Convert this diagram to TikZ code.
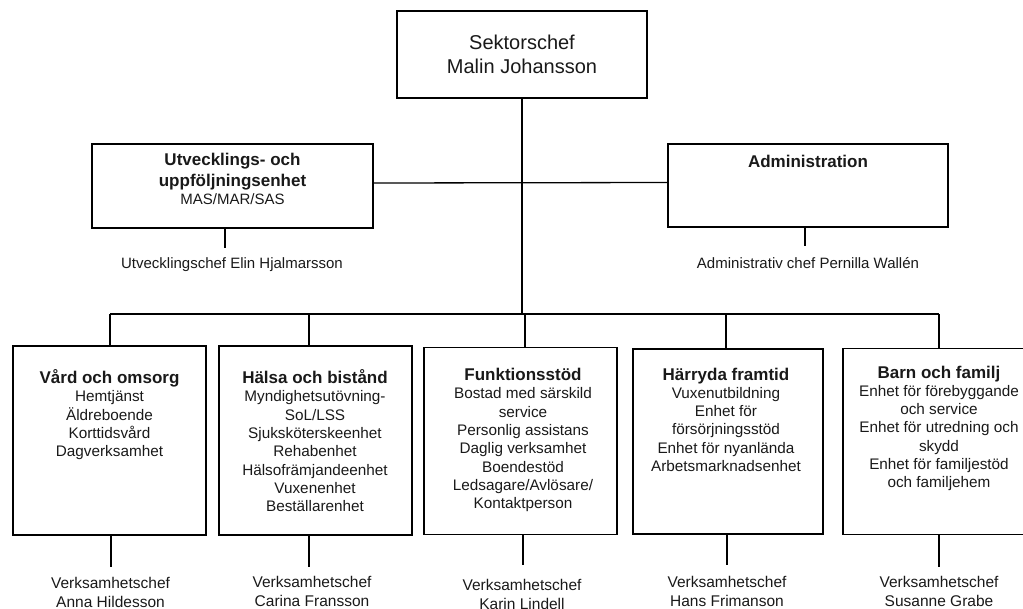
\documentclass[tikz,border=0pt]{standalone}
\usepackage{fontspec}
\setmainfont{Liberation Sans}
\begin{document}
\begin{tikzpicture}[x=1pt,y=-1pt,
  box/.style={draw=black, line width=1.6pt, rectangle, inner sep=0pt},
  conn/.style={draw=black, line width=1.3pt},
  txt/.style={inner sep=0pt, align=center, text=black!90, font=\fontsize{15.3}{18.3}\selectfont},
  chef/.style={inner sep=0pt, align=center, text=black!90, font=\fontsize{15.5}{19}\selectfont}]
\clip (0,0) rectangle (1023,608);
% top
\node[box, minimum width=250pt, minimum height=87pt, align=center,
      font=\fontsize{20}{24.5}\selectfont, text=black!90] (top) at (522,54.5) {Sektorschef\\Malin Johansson};
% staff boxes
\node[box, minimum width=281pt, minimum height=84pt] (utv) at (232.5,186) {};
\node[txt, anchor=north, font=\bfseries\fontsize{17}{21}\selectfont] (utvtxt) at (232.5,153)
  {Utvecklings- och\\uppföljningsenhet\\[-3pt]{\mdseries\fontsize{15}{18}\selectfont MAS/MAR/SAS}};
\node[box, minimum width=280pt, minimum height=83pt] (adm) at (808,185.5) {};
\node[txt, anchor=north, font=\bfseries\fontsize{17}{21}\selectfont] (admtxt) at (808,154.5) {Administration};
\node[txt, anchor=base, font=\fontsize{15}{18}\selectfont] (utvchef) at (232,268.4) {Utvecklingschef Elin Hjalmarsson};
\node[txt, anchor=base, font=\fontsize{15}{18}\selectfont] (admchef) at (808,268.4) {Administrativ chef Pernilla Wallén};
\coordinate (us) at (225,248);
\coordinate (as) at (805,246);
\draw[conn] (us |- utv.south) -- (us);
\draw[conn] (as |- adm.south) -- (as);
% trunk and bus
\coordinate (busL) at (110,314);
\coordinate (busR) at (939,314);
\draw[conn] (top.south) -- (top.south |- busL);
\draw[conn] ([yshift=3pt]utv.east) -- ([yshift=3pt]adm.west);
\draw[conn] (busL) -- (busR);
% bottom boxes
\node[box, minimum width=193pt, minimum height=189pt] (b1) at (109.5,440.5) {};
\node[box, minimum width=193pt, minimum height=189pt] (b2) at (315.5,440.5) {};
\node[box, minimum width=193pt, minimum height=187pt] (b3) at (520.5,441) {};
\node[box, minimum width=190pt, minimum height=185pt] (b4) at (728,441.5) {};
\node[box, minimum width=192pt, minimum height=186pt] (b5) at (939,441.5) {};
% drops
\coordinate (d1) at (110,314);
\coordinate (d2) at (309,314);
\coordinate (d3) at (525,314);
\coordinate (d4) at (726,314);
\coordinate (d5) at (939,314);
\draw[conn] (d1) -- (d1 |- b1.north);
\draw[conn] (d2) -- (d2 |- b2.north);
\draw[conn] (d3) -- (d3 |- b3.north);
\draw[conn] (d4) -- (d4 |- b4.north);
\draw[conn] (d5) -- (d5 |- b5.north);
% box texts
\node[txt, anchor=north] (t1) at (109.5,369.5) {{\bfseries\fontsize{17}{18.3}\selectfont Vård och omsorg}\\Hemtjänst\\Äldreboende\\Korttidsvård\\Dagverksamhet};
\node[txt, anchor=north] (t2) at (315,369.5) {{\bfseries\fontsize{17}{18.3}\selectfont Hälsa och bistånd}\\Myndighetsutövning-\\SoL/LSS\\Sjuksköterskeenhet\\Rehabenhet\\Hälsofrämjandeenhet\\Vuxenenhet\\Beställarenhet};
\node[txt, anchor=north] (t3) at (523,368) {{\bfseries\fontsize{17}{18.3}\selectfont Funktionsstöd}\\Bostad med särskild\\service\\Personlig assistans\\Daglig verksamhet\\Boendestöd\\Ledsagare/Avlösare/\\Kontaktperson};
\node[txt, anchor=north] (t4) at (726,367.5) {{\bfseries\fontsize{17}{18.3}\selectfont Härryda framtid}\\Vuxenutbildning\\Enhet för\\försörjningsstöd\\Enhet för nyanlända\\Arbetsmarknadsenhet};
\node[txt, anchor=north] (t5) at (939,365.5) {{\bfseries\fontsize{17}{18.3}\selectfont Barn och familj}\\Enhet för förebyggande\\och service\\Enhet för utredning och\\skydd\\Enhet för familjestöd\\och familjehem};
% stubs
\coordinate (s1) at (111,567);
\coordinate (s2) at (309,567);
\coordinate (s3) at (523,565);
\coordinate (s4) at (727,565);
\coordinate (s5) at (939,567);
\draw[conn] (s1 |- b1.south) -- (s1);
\draw[conn] (s2 |- b2.south) -- (s2);
\draw[conn] (s3 |- b3.south) -- (s3);
\draw[conn] (s4 |- b4.south) -- (s4);
\draw[conn] (s5 |- b5.south) -- (s5);
% managers
\node[chef, anchor=north] (m1) at (110.5,577.5) {Verksamhetschef\\Anna Hildesson};
\node[chef, anchor=north] (m2) at (312,576) {Verksamhetschef\\Carina Fransson};
\node[chef, anchor=north] (m3) at (522,579) {Verksamhetschef\\Karin Lindell};
\node[chef, anchor=north] (m4) at (727,576) {Verksamhetschef\\Hans Frimanson};
\node[chef, anchor=north] (m5) at (939,576.5) {Verksamhetschef\\Susanne Grabe};
\end{tikzpicture}
\end{document}
